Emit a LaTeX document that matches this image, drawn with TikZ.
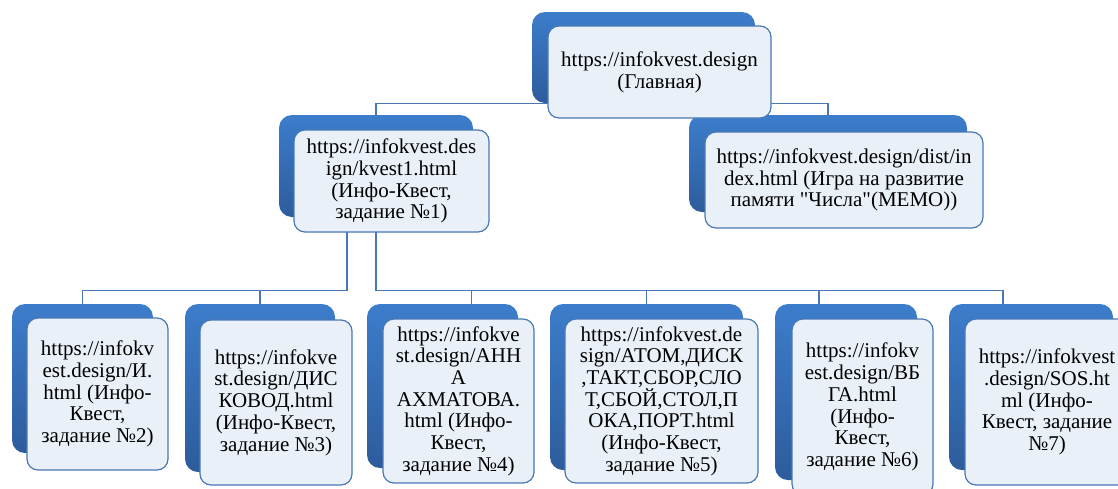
\documentclass[tikz,border=0pt]{standalone}
\usepackage{fontspec}
\setmainfont{Liberation Serif}[Ligatures=TeXOff]
\usepackage{tikz}
\usetikzlibrary{positioning}
\usepackage{xcolor}
\definecolor{ColTop}{RGB}{60,125,203}
\definecolor{ColBot}{RGB}{45,92,156}
\definecolor{ColLine}{RGB}{74,120,182}
\definecolor{ColFill}{RGB}{234,240,248}
\tikzstyle{BackBox}=[rectangle,rounded corners=13pt,top color=ColTop,bottom color=ColBot,draw=none]
\tikzstyle{FrontBox}=[rectangle,rounded corners=11pt,draw=ColLine,line width=1.2pt,fill=ColFill,
inner sep=2pt,align=center,font=\fontsize{21}{21.7}\selectfont]
\tikzstyle{LinkEdge}=[ColLine,line width=1.3pt]

\begin{document}
\begin{tikzpicture}[x=1pt,y=-1pt]
        \useasboundingbox (0,0) rectangle (1118,488);
        % back boxes
        \node[BackBox,minimum width=223pt,minimum height=91pt](hb)at(643.5,57.5){};
        \node[BackBox,minimum width=194pt,minimum height=102pt](k1b)at(376,166){};
        \node[BackBox,minimum width=278pt,minimum height=97pt](mb)at(828,163.5){};
        \node[BackBox,minimum width=141pt,minimum height=149pt](t2b)at(82.5,378.5){};
        \node[BackBox,minimum width=150pt,minimum height=168pt](t3b)at(260,388){};
        \node[BackBox,minimum width=151pt,minimum height=164pt](t4b)at(442.5,386){};
        \node[BackBox,minimum width=193pt,minimum height=166pt](t5b)at(646.5,387){};
        \node[BackBox,minimum width=142pt,minimum height=176pt](t6b)at(846,392){};
        \node[BackBox,minimum width=164pt,minimum height=166pt](t7b)at(1031,387){};
        % connectors
        \draw[LinkEdge](hb.south)-|(k1b.north);
        \draw[LinkEdge](hb.south)-|(mb.north);
        \draw[LinkEdge]([xshift=-29pt]k1b.south)--++(0,73)-|(t2b.north);
        \draw[LinkEdge]([xshift=-29pt]k1b.south)--++(0,73)-|(t3b.north);
        \draw[LinkEdge](k1b.south)--++(0,73)-|([xshift=29pt]t4b.north);
        \draw[LinkEdge](k1b.south)--++(0,73)-|(t5b.north);
        \draw[LinkEdge](k1b.south)--++(0,73)-|([xshift=-27pt]t6b.north);
        \draw[LinkEdge](k1b.south)--++(0,73)-|([xshift=-28pt]t7b.north);
        % front boxes
        \node[FrontBox,minimum width=223pt,minimum height=92pt](h)at([shift={(16,14.5)}]hb)
            {https://infokvest.design\\(Главная)};
        \node[FrontBox,minimum width=195pt,minimum height=102pt](k1)at([shift={(15.5,15)}]k1b)
            {https://infokvest.des\\ign/kvest1.html\\(Инфо-Квест,\\задание №1)};
        \node[FrontBox,minimum width=278pt,minimum height=96pt](m)at([shift={(16,16.5)}]mb)
            {https://infokvest.design/dist/in\\dex.html (Игра на развитие\\памяти "Числа"(МЕМО))};
        \node[FrontBox,minimum width=141pt,minimum height=152pt](t2)at([shift={(15,15.5)}]t2b)
            {https://infokv\\est.design/И.\\html (Инфо-\\Квест,\\задание №2)};
        \node[FrontBox,minimum width=152pt,minimum height=165pt](t3)at([shift={(16,14.5)}]t3b)
            {https://infokve\\st.design/ДИС\\КОВОД.html\\(Инфо-Квест,\\задание №3)};
        \node[FrontBox,minimum width=151pt,minimum height=164pt](t4)at([shift={(16,15)}]t4b)
            {https://infokve\\st.design/АНН\\А\\АХМАТОВА.\\html (Инфо-\\Квест,\\задание №4)};
        \node[FrontBox,minimum width=193pt,minimum height=164pt](t5)at([shift={(15,14)}]t5b)
            {https://infokvest.de\\sign/АТОМ,ДИСК\\,ТАКТ,СБОР,СЛО\\Т,СБОЙ,СТОЛ,П\\ОКА,ПОРТ.html\\(Инфо-Квест,\\задание №5)};
        \node[FrontBox,minimum width=141pt,minimum height=176pt](t6)at([shift={(16.5,15)}]t6b)
            {https://infokv\\est.design/ВБ\\ГА.html\\(Инфо-\\Квест,\\задание №6)};
        \node[FrontBox,minimum width=164pt,minimum height=166pt](t7)at([shift={(16,15)}]t7b)
            {https://infokvest\\.design/SOS.ht\\ml (Инфо-\\Квест, задание\\№7)};
    \end{tikzpicture}
\end{document}
